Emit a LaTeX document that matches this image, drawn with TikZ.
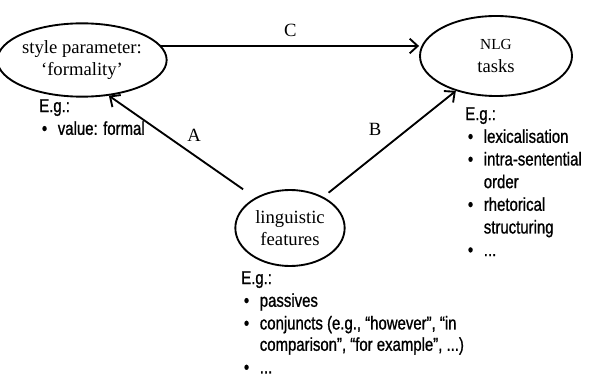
\documentclass[tikz,border=0pt]{standalone}
\usepackage{fontspec}
\setmainfont{Liberation Serif}
\newfontfamily\listfont[FakeStretch=0.8,FakeBold=1]{Liberation Sans}
\usetikzlibrary{positioning,shapes.geometric,arrows.meta}

\begin{document}
\begin{tikzpicture}
	[x=0.75pt, y=-0.75pt,
	font=\fontsize{14}{17}\selectfont,
	concept/.style={ellipse, draw, line width=1.4pt, inner sep=0pt, align=center},
	link/.style={draw, line width=1.4pt,
		-{Straight Barb[length=6pt,width=11pt,line width=1.4pt]}},
	examples/.style={anchor=north west, inner sep=0pt,
		font=\listfont\fontsize{14}{17}\selectfont},
	]
	\useasboundingbox (0,0) rectangle (589,381);
	% concepts
	\node[concept, minimum width=111pt, minimum height=55pt] (style) at (82,60) {style parameter:\\‘formality’};
	\node[concept, minimum width=114pt, minimum height=60pt] (nlg) at (496,56) {{\fontsize{11.5}{13}\selectfont NLG}\\tasks};
	\node[concept, minimum width=82pt, minimum height=57pt] (ling) at (290,228) {linguistic\\features};
	% links
	\draw[link] (style.10) -- (style.10 -| nlg.west) node[midway, above=3pt] {C};
	\draw[link, shorten <=11pt] (ling.139) -- (style.-53) node[midway, above right=0pt] {A};
	\draw[link, shorten <=5pt] (ling.43) -- (nlg.-139) node[midway, above left=3pt] {B};
	% examples
	\node[examples] (styleeg) at (39,96) {%
		\begin{tabular}{@{\hspace{2pt}}l@{\hspace{8pt}}l@{}}
			\multicolumn{2}{@{}l@{}}{E.g.:}\\
			\textbullet & value: formal
		\end{tabular}};
	\node[examples] (nlgeg) at (465,104) {%
		\begin{tabular}{@{\hspace{2pt}}l@{\hspace{8pt}}l@{}}
			\multicolumn{2}{@{}l@{}}{E.g.:}\\
			\textbullet & lexicalisation\\
			\textbullet & intra-sentential\\
			& order\\
			\textbullet & rhetorical\\
			& structuring\\
			\textbullet & ...
		\end{tabular}};
	\node[examples] (lingeg) at (241,268) {%
		\begin{tabular}{@{\hspace{2pt}}l@{\hspace{8pt}}l@{}}
			\multicolumn{2}{@{}l@{}}{E.g.:}\\
			\textbullet & passives\\
			\textbullet & conjuncts (e.g., “however”, “in\\[-1pt]
			& comparison”, “for example”, ...)\\
			\textbullet & ...
		\end{tabular}};
\end{tikzpicture}
\end{document}
